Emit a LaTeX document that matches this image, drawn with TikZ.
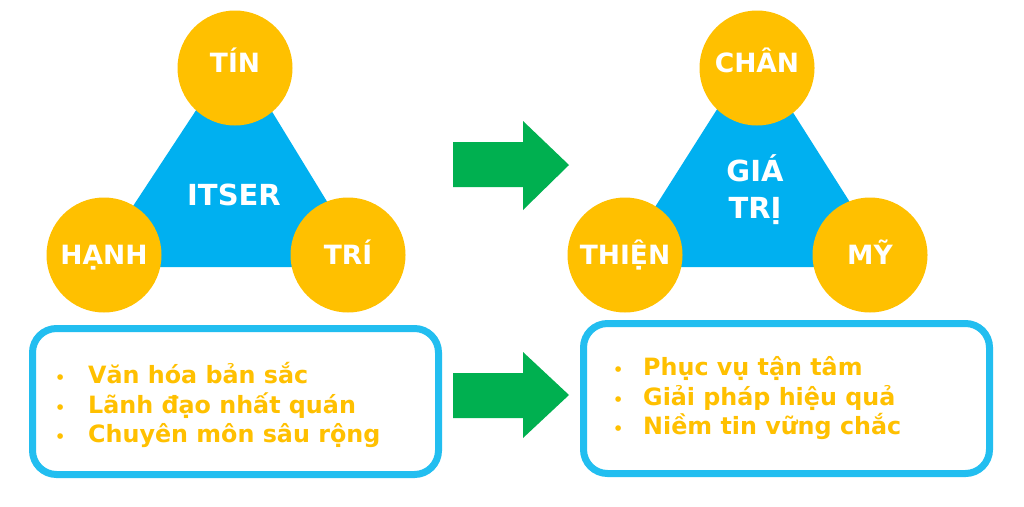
\documentclass[tikz,border=0pt]{standalone}
\usepackage{fontspec}
\setmainfont{DejaVu Sans}
\definecolor{gold}{HTML}{FFC000}
\definecolor{sky}{HTML}{00B0F0}
\definecolor{grn}{HTML}{00B050}
\definecolor{boxblue}{HTML}{22BEF0}
\begin{document}
\begin{tikzpicture}[x=1pt,y=-1pt,
  ball/.style={circle, fill=gold, minimum size=115pt, inner sep=0pt, text=white,
    text height=19.3pt, text depth=0pt,
    font=\bfseries\fontsize{26.5}{30}\selectfont},
  topball/.style={ball, text depth=10pt},
  centre/.style={text=white, align=center, inner sep=0pt,
    font=\bfseries\fontsize{29}{37}\selectfont},
  panel/.style={draw=boxblue, line width=7pt, rounded corners=24pt},
  items/.style={text=gold, align=left, inner sep=0pt, anchor=west,
    font=\bfseries\fontsize{23.8}{29.5}\selectfont},
  bigarrow/.style={fill=grn}
]
\useasboundingbox (0,0) rectangle (1024,506);
\fill[white] (0,0) rectangle (1024,506);

% left triangle
\fill[sky] (93,267) -- (235,51) -- (367,267) -- cycle;
\node[centre, text height=21pt, text depth=0pt] (itser) at (234,195) {ITSER};
\node[topball] (tin) at (235,68) {TÍN};
\node[ball] (hanh) at (104,255) {HẠNH};
\node[ball] (tri) at (348,255) {TRÍ};

% right triangle
\fill[sky] (617,267) -- (754,51) -- (891,267) -- cycle;
\node[centre] (giatri) at (755,190) {GIÁ\\TRỊ};
\node[topball] (chan) at (757,68) {CHÂN};
\node[ball] (thien) at (625,255) {THIỆN};
\node[ball] (my) at (870,255) {MỸ};

% arrows
\fill[bigarrow] (453,142) -- (523,142) -- (523,121) -- (569,165) -- (523,210) -- (523,187) -- (453,187) -- cycle;
\fill[bigarrow] (453,373) -- (523,373) -- (523,352) -- (569,395) -- (523,438) -- (523,418) -- (453,418) -- cycle;

% boxes
\draw[panel] (32.5,328.5) rectangle (438.5,474.5);
\draw[panel] (583.5,323.5) rectangle (989.5,473.5);

\node[items] (leftlist) at (55,405) {\makebox[33pt][l]{\fontsize{16}{16}\selectfont•}Văn hóa bản sắc\\
\makebox[33pt][l]{\fontsize{16}{16}\selectfont•}Lãnh đạo nhất quán\\
\makebox[33pt][l]{\fontsize{16}{16}\selectfont•}Chuyên môn sâu rộng};
\node[items] (rightlist) at (613,398.5) {\makebox[30pt][l]{\fontsize{16}{16}\selectfont•}Phục vụ tận tâm\\
\makebox[30pt][l]{\fontsize{16}{16}\selectfont•}Giải pháp hiệu quả\\
\makebox[30pt][l]{\fontsize{16}{16}\selectfont•}Niềm tin vững chắc};
\end{tikzpicture}
\end{document}
